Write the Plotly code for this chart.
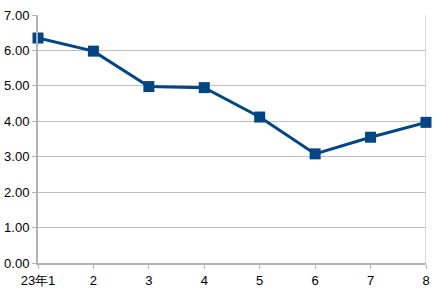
import plotly.graph_objects as go

months = [1, 2, 3, 4, 5, 6, 7, 8]
tick_labels = ["23年1", "2", "3", "4", "5", "6", "7", "8"]
values = [6.35, 5.98, 4.98, 4.95, 4.12, 3.08, 3.55, 3.97]

fig = go.Figure()
fig.add_trace(go.Scatter(
    x=months, y=values, mode="lines+markers",
    line=dict(color="#004586", width=3),
    marker=dict(symbol="square", size=11, color="#004586"),
    cliponaxis=False,
))
fig.update_layout(
    width=438, height=294,
    margin=dict(l=38, r=12, t=15, b=31),
    paper_bgcolor="white", plot_bgcolor="white",
    showlegend=False,
    font=dict(family="Liberation Sans, Arial, sans-serif", size=13, color="#000000"),
)
fig.update_xaxes(
    range=[1, 8], tickvals=months, ticktext=tick_labels,
    showgrid=False, showline=True, linecolor="#b3b3b3", linewidth=2,
    ticks="outside", ticklen=4, tickcolor="#b3b3b3", mirror=False,
    zeroline=False, automargin=False,
)
fig.update_yaxes(
    range=[0, 7], tickvals=[0, 1, 2, 3, 4, 5, 6, 7], tickformat=".2f",
    showgrid=True, gridcolor="#c0c0c0", gridwidth=1,
    showline=True, linecolor="#b3b3b3", linewidth=2,
    ticks="outside", ticklen=4, tickcolor="#b3b3b3",
    zeroline=False, automargin=False,
)
fig.add_shape(type="line", xref="x", yref="paper", x0=8, x1=8, y0=0, y1=1,
              line=dict(color="#b3b3b3", width=1), layer="below")
fig.write_html("out.html")
